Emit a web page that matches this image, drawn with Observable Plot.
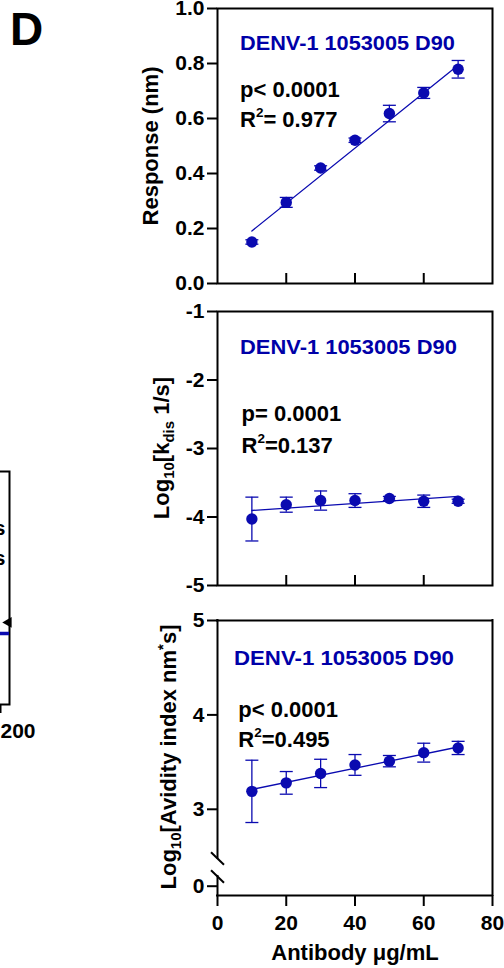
<!DOCTYPE html>
<html><head><meta charset="utf-8">
<script src="https://cdn.jsdelivr.net/npm/d3@7"></script>
<script src="https://cdn.jsdelivr.net/npm/@observablehq/plot@0.6"></script>
<style>
html,body{margin:0;padding:0;background:#fff;}
#root{position:relative;width:504px;height:968px;overflow:hidden;background:#fff;}
.panel{position:absolute;}
.panel svg{display:block;max-width:none;}
</style></head><body><div id="root"></div>
<script>
// ---- data ----
const antibody = [10, 20, 30, 40, 50, 60, 70];
const responseMean = [0.151, 0.295, 0.420, 0.521, 0.618, 0.693, 0.779];
const responseErr  = [0.008, 0.018, 0.008, 0.008, 0.030, 0.020, 0.032];
const kdisMean = [-4.03, -3.82, -3.76, -3.76, -3.73, -3.77, -3.77];
const kdisErr  = [0.32, 0.11, 0.14, 0.10, 0.03, 0.09, 0.03];
const avidityMean = [3.19, 3.28, 3.38, 3.47, 3.51, 3.60, 3.65];
const avidityErr  = [0.33, 0.12, 0.15, 0.11, 0.06, 0.10, 0.07];
const fitX = [10, 70];
const responseFit = [0.191, 0.794];
const kdisFit = [-3.905, -3.70];
const avidityFit = [3.21, 3.66];

const xTicks = [0, 20, 40, 60, 80];
const innerXTicks = [20, 40, 60];
const responseTicks = [0, 0.2, 0.4, 0.6, 0.8, 1.0];
const kdisTicks = [-1, -2, -3, -4, -5];
const avidityTicks = [0, 3, 4, 5];
const avidityDomain = [-0.1, 0, 2.5, 5];       // broken (piecewise) axis
const avidityBreaks = [2.33, 0.82];             // positions of the break marks
const avidityAxisSegments = [{y1: 5, y2: 2.33}, {y1: 0.82, y2: -0.1}];

const strainLabel = "DENV-1 1053005 D90";
const pLabels = ["p< 0.0001", "p= 0.0001", "p< 0.0001"];
const r2Labels = ["= 0.977", "=0.137", "=0.495"];
const xTitle = "Antibody \u03bcg/mL";

// neighbouring (cropped) panel fragment
const fragXTicks = [200];
const fragBlue = [0.305];
const fragArrow = [0.352];

// ---- styling ----
const FONT = '"Liberation Sans", Arial, Helvetica, sans-serif';
const BLUE = "#0a0ab0";
const TEXT_BLUE = "#0000a8";

const capSymbol = {draw(ctx, size) {const r = Math.sqrt(size / Math.PI); ctx.moveTo(-r, 0); ctx.lineTo(r, 0);}};
const breakSymbol = {draw(ctx, size) {const r = Math.sqrt(size / Math.PI); ctx.moveTo(-r * 0.72, -r * 0.69); ctx.lineTo(r * 0.72, r * 0.69);}};

const rows = (mean, err) => antibody.map((x, i) => ({x, m: mean[i], lo: mean[i] - err[i], hi: mean[i] + err[i]}));
const fitRows = (fy) => fitX.map((x, i) => ({x, y: fy[i]}));

function dataMarks(mean, err, fit) {
  const d = rows(mean, err);
  return [
    Plot.ruleX(d, {x: "x", y1: "lo", y2: "hi", stroke: BLUE, strokeWidth: 1.3}),
    Plot.dot(d, {x: "x", y: "lo", r: 6.5, symbol: capSymbol, stroke: BLUE, strokeWidth: 1.3, fill: "none"}),
    Plot.dot(d, {x: "x", y: "hi", r: 6.5, symbol: capSymbol, stroke: BLUE, strokeWidth: 1.3, fill: "none"}),
    Plot.line(fitRows(fit), {x: "x", y: "y", stroke: BLUE, strokeWidth: 1.3}),
    Plot.dot(d, {x: "x", y: "m", r: 5.7, fill: BLUE, stroke: "none"})
  ];
}

const axisStyle = {tickSize: 10, tickPadding: 3, strokeWidth: 2, fontSize: 21, fontWeight: "bold", label: null};
const plotStyle = {fontFamily: FONT, background: "transparent", overflow: "visible", color: "black"};

// svg must already be in the document (so widths can be measured)
function rich(svg, parts, {x, y, size, color = "black", rotate = false, anchor = "start", length = null}) {
  const t = d3.select(svg).append("text")
    .attr("font-family", FONT).attr("font-weight", "bold").attr("font-size", size)
    .attr("fill", color).attr("text-anchor", anchor);
  if (rotate) t.attr("transform", `translate(${x},${y}) rotate(-90)`);
  else t.attr("x", x).attr("y", y);
  let shift = 0;
  for (const [s, kind, fs, off] of parts) {
    const ts = t.append("tspan").text(s);
    const target = kind ? off : 0;
    if (target !== shift) { ts.attr("dy", target - shift); shift = target; }
    if (kind) ts.attr("font-size", fs);
  }
  if (length && !rotate) {
    const w = t.node().getComputedTextLength();
    if (w > 0) t.attr("x", 0).attr("y", 0).attr("transform", `translate(${x},${y}) scale(${length / w},1)`);
  }
  return t;
}

const root = document.getElementById("root");
function place(el, top, left = 0) {
  const div = document.createElement("div");
  div.className = "panel";
  div.style.top = top + "px";
  div.style.left = left + "px";
  div.appendChild(el);
  root.appendChild(div);
}

// ---- neighbour fragment (cropped panel at left edge) ----
const frag = Plot.plot({
  width: 50, height: 760, marginLeft: 0, marginRight: 0, marginTop: 471, marginBottom: 56,
  x: {domain: [0, 200]}, y: {domain: [0, 1], axis: null},
  style: plotStyle,
  marks: [
    Plot.frame({stroke: "black", strokeWidth: 2}),
    Plot.axisX({ticks: fragXTicks, tickSize: 9, tickPadding: 10, strokeWidth: 2, fontSize: 21, fontWeight: "bold", label: null, textAnchor: "start", dx: -9}),
    Plot.ruleY(fragBlue, {stroke: BLUE, strokeWidth: 3.5}),
    Plot.dot(fragArrow, {x: 196, y: d => d, symbol: "triangle", r: 4, fill: "black", rotate: 150}),
    Plot.text(["s"], {frameAnchor: "top-right", dx: -4, dy: 49, textAnchor: "end", fontSize: 21, fontWeight: "bold"}),
    Plot.text(["s"], {frameAnchor: "top-right", dx: -4, dy: 79, textAnchor: "end", fontSize: 21, fontWeight: "bold"})
  ]
});
place(frag, 0, -41);

// ---- Panel 1: Response ----
const p1 = Plot.plot({
  width: 504, height: 300, marginTop: 8, marginBottom: 17, marginLeft: 217, marginRight: 12,
  x: {domain: [0, 80], axis: null}, y: {domain: [0, 1]},
  style: plotStyle,
  marks: [
    Plot.axisY({ticks: responseTicks, tickFormat: d => d.toFixed(1), ...axisStyle}),
    Plot.ruleX(innerXTicks, {insetTop: 265, stroke: "black", strokeWidth: 2}),
    Plot.frame({stroke: "black", strokeWidth: 2}),
    ...dataMarks(responseMean, responseErr, responseFit)
  ]
});
place(p1, 0);
rich(p1, [["D"]], {x: 10, y: 45, size: 46});
rich(p1, [["Response (nm)"]], {x: 158, y: 146, size: 22, rotate: true, anchor: "middle"});
rich(p1, [[strainLabel]], {x: 240, y: 50, size: 21, color: TEXT_BLUE, length: 215});
rich(p1, [[pLabels[0]]], {x: 240, y: 96.5, size: 22});
rich(p1, [["R"], ["2", "sup", 13.5, -10], [r2Labels[0]]], {x: 240, y: 127.3, size: 22});

// ---- Panel 2: kdis ----
const p2 = Plot.plot({
  width: 504, height: 300, marginTop: 11, marginBottom: 15, marginLeft: 217, marginRight: 12,
  x: {domain: [0, 80], axis: null}, y: {domain: [-5, -1]},
  style: plotStyle,
  marks: [
    Plot.axisY({ticks: kdisTicks, tickFormat: d => String(d), ...axisStyle}),
    Plot.ruleX(innerXTicks, {insetTop: 264, stroke: "black", strokeWidth: 2}),
    Plot.frame({stroke: "black", strokeWidth: 2}),
    ...dataMarks(kdisMean, kdisErr, kdisFit)
  ]
});
place(p2, 300);
rich(p2, [["Log"], ["10", "sub", 15, 5], ["[k"], ["dis", "sub", 15, 5], [" 1/s]"]], {x: 169, y: 148, size: 22, rotate: true, anchor: "middle"});
rich(p2, [[strainLabel]], {x: 240, y: 54.3, size: 21, color: TEXT_BLUE, length: 217});
rich(p2, [[pLabels[1]]], {x: 241.5, y: 120.7, size: 22});
rich(p2, [["R"], ["2", "sup", 13.5, -10], [r2Labels[1]]], {x: 241.5, y: 153.3, size: 22});

// ---- Panel 3: avidity (broken y axis) ----
const p3 = Plot.plot({
  width: 504, height: 368, marginTop: 20, marginBottom: 73, marginLeft: 217, marginRight: 12,
  x: {domain: [0, 80]},
  y: {type: "linear", domain: avidityDomain, range: [295, 285.7, 256, 20]},
  style: plotStyle,
  marks: [
    Plot.axisY({ticks: avidityTicks, tickFormat: d => String(d), ...axisStyle}),
    Plot.axisX({ticks: xTicks, tickSize: 11, tickPadding: 9, strokeWidth: 2, fontSize: 21, fontWeight: "bold", label: null}),
    Plot.ruleY([avidityDomain[avidityDomain.length - 1], avidityDomain[0]], {stroke: "black", strokeWidth: 2, strokeLinecap: "square"}),
    Plot.ruleX([80], {stroke: "black", strokeWidth: 2, strokeLinecap: "square"}),
    Plot.ruleX(avidityAxisSegments, {x: 0, y1: "y1", y2: "y2", stroke: "black", strokeWidth: 2, strokeLinecap: "square"}),
    Plot.dot(avidityBreaks, {x: 0, y: d => d, r: 9, symbol: breakSymbol, stroke: "black", strokeWidth: 2, fill: "none"}),
    Plot.text([xTitle], {frameAnchor: "bottom", dy: 64, fontSize: 22, fontWeight: "bold", fill: "black"}),
    ...dataMarks(avidityMean, avidityErr, avidityFit)
  ]
});
place(p3, 600);
rich(p3, [["Log"], ["10", "sub", 15, 5], ["[Avidity index nm"], ["*", "sup", 15, -8], ["s]"]], {x: 176, y: 157, size: 22, rotate: true, anchor: "middle"});
rich(p3, [[strainLabel]], {x: 234, y: 65, size: 21, color: TEXT_BLUE, length: 220});
rich(p3, [[pLabels[2]]], {x: 238.3, y: 116.7, size: 22});
rich(p3, [["R"], ["2", "sup", 13.5, -10], [r2Labels[2]]], {x: 238.3, y: 146.7, size: 22});
</script>
</body></html>
